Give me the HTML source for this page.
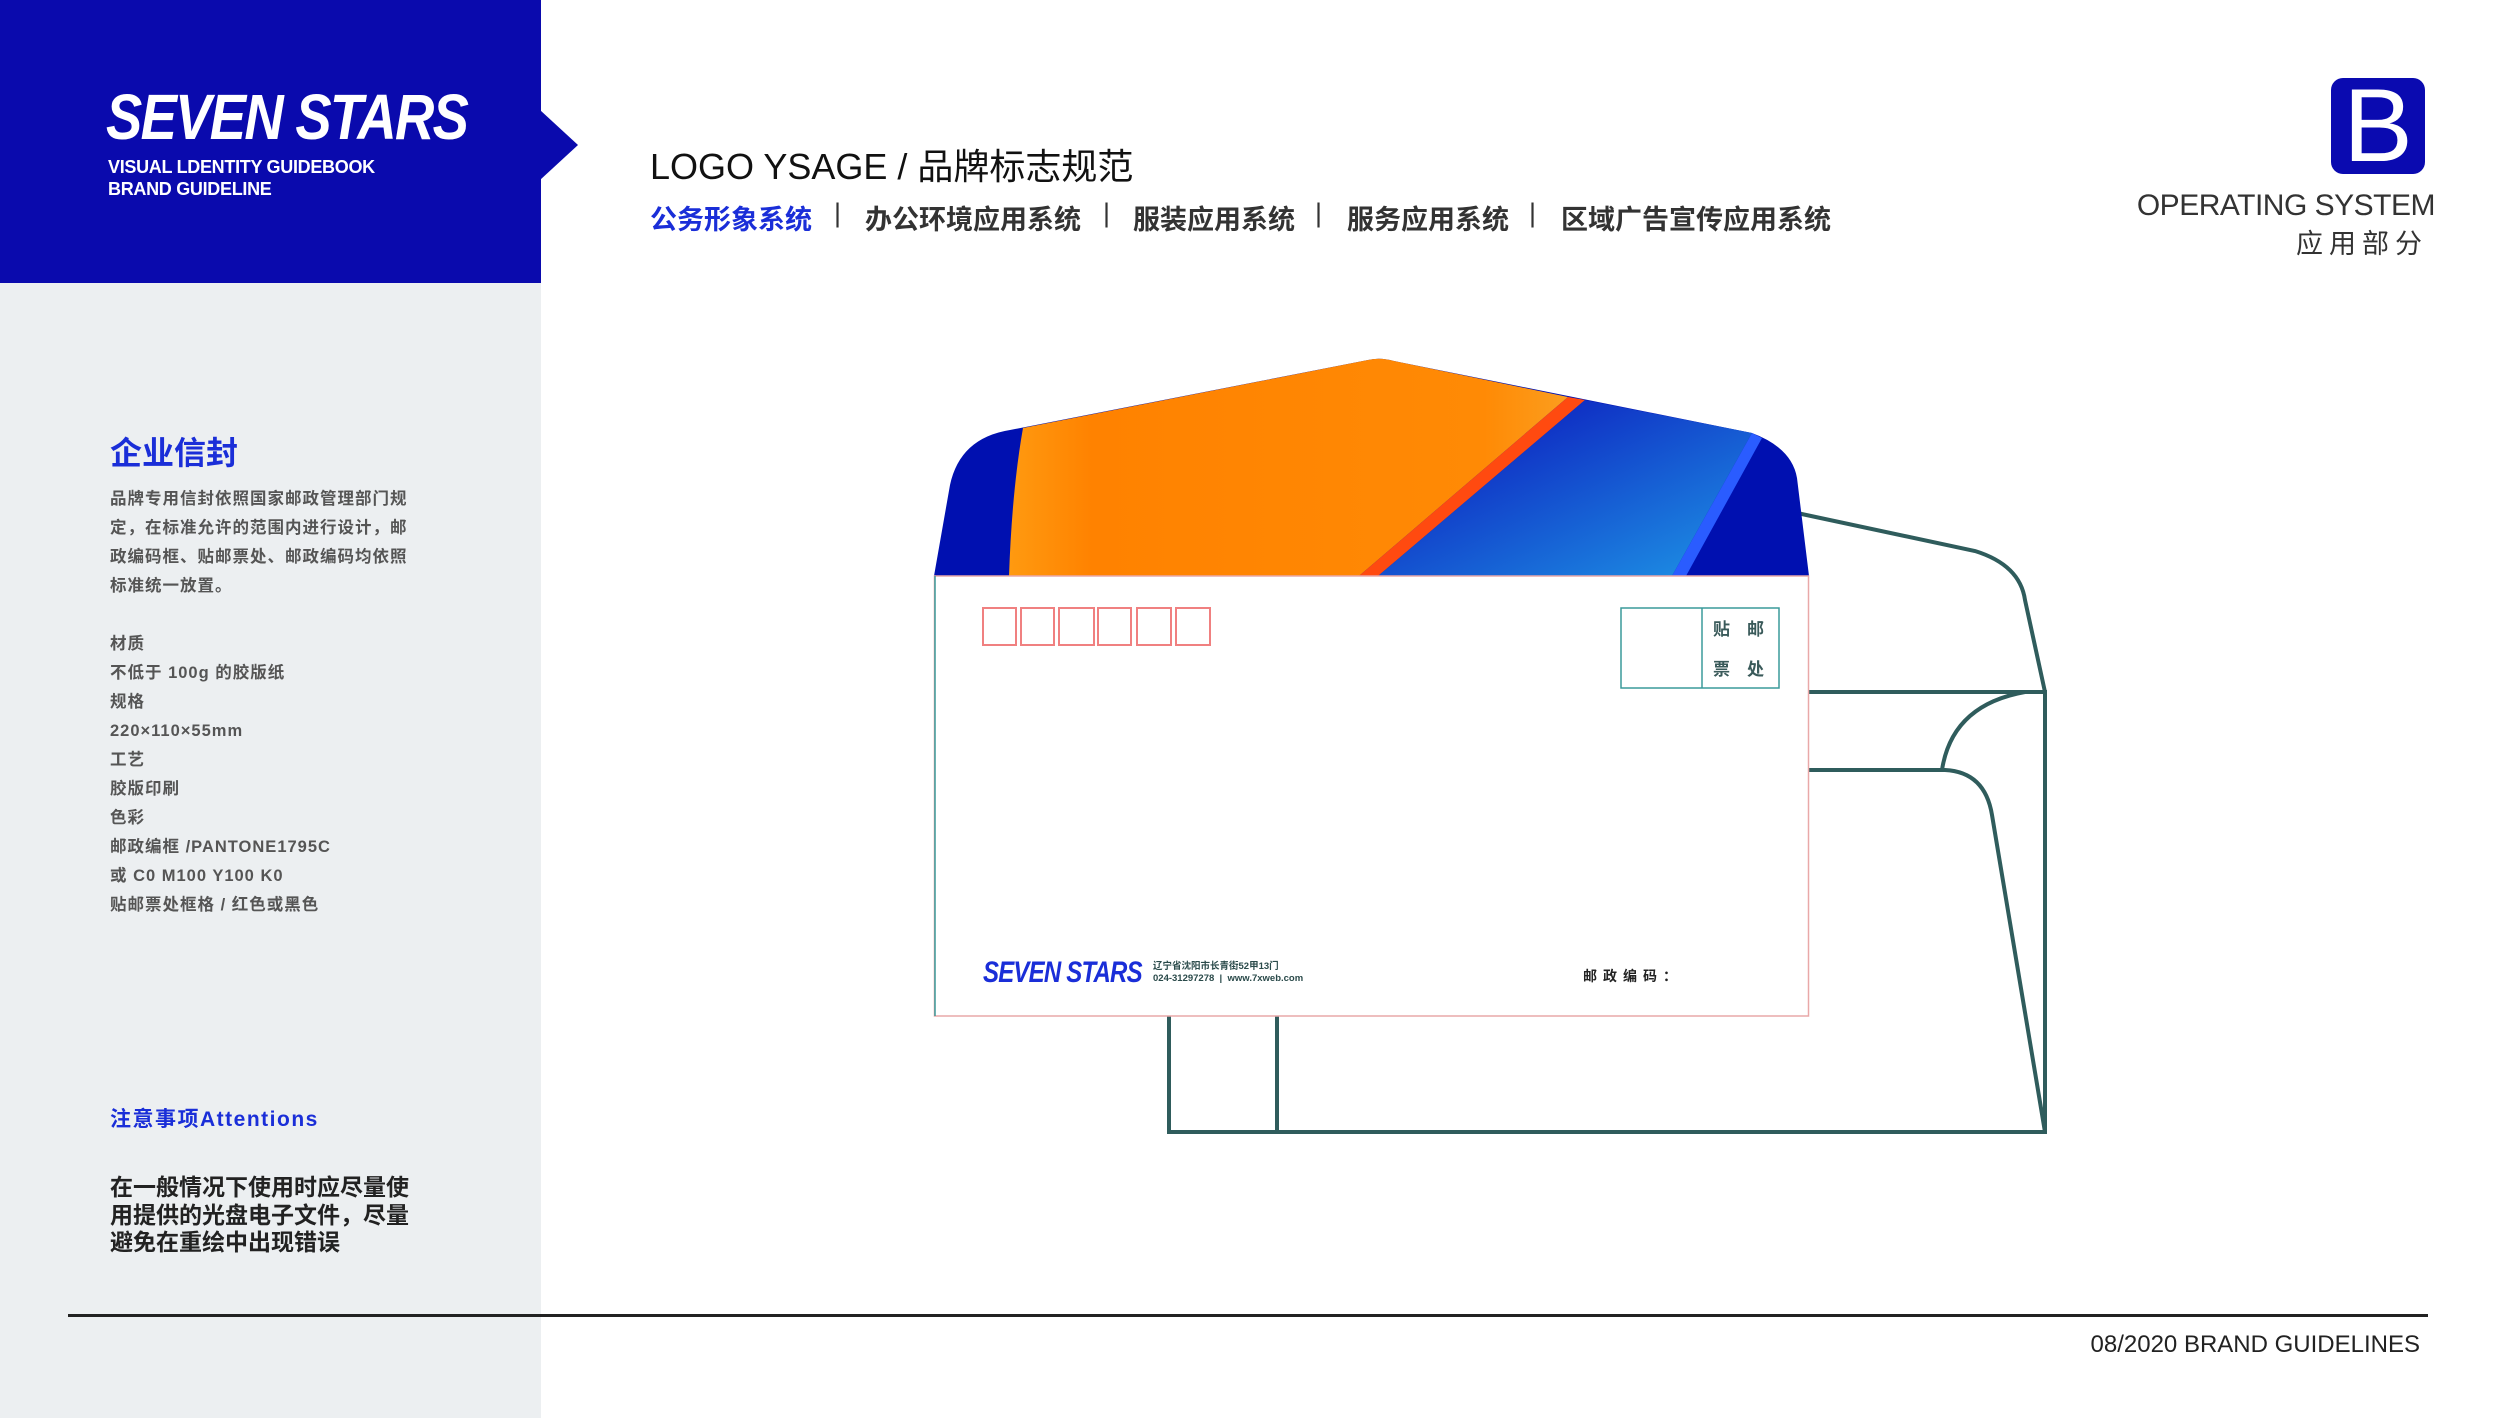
<!DOCTYPE html>
<html><head><meta charset="utf-8"><style>
*{margin:0;padding:0;box-sizing:border-box}
body{width:2520px;height:1418px;background:#fff;position:relative;overflow:hidden;font-family:"Liberation Sans","Noto Sans CJK SC",sans-serif}
.a{position:absolute;white-space:nowrap}
.side{position:absolute;left:0;top:0;width:541px;height:1418px;background:#eceff1}
.hdr{position:absolute;left:0;top:0;width:541px;height:283px;background:#0a0aad}
.p{font-size:16.5px;font-weight:bold;color:#555;letter-spacing:1px;line-height:29px}
.n{position:absolute;top:198px;font-size:27px;color:#333;font-weight:bold;white-space:nowrap}
</style></head><body>
<div class="side"></div>
<div class="hdr"></div>
<svg class="a" style="left:0;top:0" width="600" height="300"><polygon points="540,110 578,145 540,180" fill="#0a0aad"/></svg>
<div class="a" style="left:106px;top:80px;font-size:64px;font-weight:bold;font-style:italic;color:#fff;transform:scaleX(0.85);transform-origin:left top;letter-spacing:-2px">SEVEN STARS</div>
<div class="a" style="left:108px;top:156px;font-size:18px;font-weight:bold;color:#fff;line-height:22px;transform:scaleX(1.0);transform-origin:left top;letter-spacing:-0.3px">VISUAL LDENTITY GUIDEBOOK<br>BRAND GUIDELINE</div>

<div class="a" style="left:650px;top:138px;font-size:36px;color:#111">LOGO YSAGE / 品牌标志规范</div>
<div class="n" style="left:650px;color:#1a2ed8">公务形象系统</div>
<div class="n" style="left:834px;font-weight:normal">|</div>
<div class="n" style="left:865px">办公环境应用系统</div>
<div class="n" style="left:1103px;font-weight:normal">|</div>
<div class="n" style="left:1133px">服装应用系统</div>
<div class="n" style="left:1315px;font-weight:normal">|</div>
<div class="n" style="left:1347px">服务应用系统</div>
<div class="n" style="left:1529px;font-weight:normal">|</div>
<div class="n" style="left:1561px">区域广告宣传应用系统</div>

<div class="a" style="left:2331px;top:78px;width:94px;height:96px;background:#0a0ab0;border-radius:12px;color:#fff;font-size:104px;line-height:96px;text-align:center">B</div>
<div class="a" style="left:2131px;top:189px;width:304px;text-align:right;font-size:30px;color:#333;letter-spacing:-0.5px">OPERATING SYSTEM</div>
<div class="a" style="left:2296px;top:222px;width:130px;text-align:right;font-size:27px;color:#333;letter-spacing:6px">应用部分</div>

<div class="a" style="left:110px;top:428px;font-size:32px;font-weight:bold;color:#1a2ed8">企业信封</div>
<div class="a p" style="left:110px;top:485px">品牌专用信封依照国家邮政管理部门规<br>定，在标准允许的范围内进行设计，邮<br>政编码框、贴邮票处、邮政编码均依照<br>标准统一放置。</div>
<div class="a p" style="left:110px;top:630px">材质<br>不低于 100g 的胶版纸<br>规格<br>220×110×55mm<br>工艺<br>胶版印刷<br>色彩<br>邮政编框 /PANTONE1795C<br>或 C0 M100 Y100 K0<br>贴邮票处框格 / 红色或黑色</div>
<div class="a" style="left:110px;top:1103px;font-size:21px;font-weight:bold;color:#1a2ed8;letter-spacing:1.5px">注意事项Attentions</div>
<div class="a" style="left:110px;top:1174px;font-size:23px;font-weight:bold;color:#222;line-height:27.5px;letter-spacing:0px">在一般情况下使用时应尽量使<br>用提供的光盘电子文件，尽量<br>避免在重绘中出现错误</div>

<div class="a" style="left:68px;top:1314px;width:2360px;height:3px;background:#222"></div>
<div class="a" style="left:1900px;top:1331px;font-size:24px;color:#222;width:520px;text-align:right">08/2020 BRAND GUIDELINES</div>

<svg class="a" style="left:0;top:0" width="2520" height="1418">
<defs>
<linearGradient id="og" x1="0" y1="0" x2="1" y2="0"><stop offset="0" stop-color="#ff9a10"/><stop offset="0.15" stop-color="#ff8200"/><stop offset="0.85" stop-color="#ff8a05"/><stop offset="1" stop-color="#fb9e1e"/></linearGradient>
<linearGradient id="bg" x1="0" y1="0" x2="1" y2="1"><stop offset="0" stop-color="#0a0ab8"/><stop offset="1" stop-color="#1e96e6"/></linearGradient>
</defs>
<g fill="none" stroke="#2f5c5c" stroke-width="4">
<path d="M1797,513 L1975,551 Q2020,565 2025,600 L2045,692"/>
<path d="M1809,692 L2045,692 L2045,1132 L1169,1132 L1169,1016"/>
<path d="M1277,1016 L1277,1132"/>
<path d="M2025,692 Q1952,705 1942,770"/>
<path d="M1809,770 L1945,770 Q1985,772 1992,815 L2045,1132"/>
</g>
<path d="M934,576 L950,485 Q960,438 1010,430 L1368,360 Q1380,357 1394,361 L1752,433 Q1792,448 1797,478 L1809,576 Z" fill="#0010b0"/>
<path d="M1023,428 L1368,360 Q1380,357 1394,361 L1568,397 L1359,576 L1009,576 Q1012,490 1023,428 Z" fill="url(#og)"/>
<polygon points="1568,397 1585,400 1378,576 1359,576" fill="#ff4a10"/>
<polygon points="1585,400 1752,433 1672,576 1378,576" fill="url(#bg)"/>
<polygon points="1752,433 1762,438 1686,576 1672,576" fill="#2a5cff"/>
<rect x="934.5" y="576" width="874" height="440" fill="#fff" stroke="#e9a8a8" stroke-width="1.5"/>
<line x1="935" y1="576" x2="935" y2="1016" stroke="#3a9a9a" stroke-width="1.5"/>
<g fill="none" stroke="#f08080" stroke-width="2">
<rect x="983" y="608" width="33" height="37"/><rect x="1021" y="608" width="33" height="37"/><rect x="1059" y="608" width="35" height="37"/><rect x="1098" y="608" width="33" height="37"/><rect x="1137" y="608" width="34" height="37"/><rect x="1176" y="608" width="34" height="37"/>
</g>
<g fill="none" stroke="#3a9a9a" stroke-width="1.5"><rect x="1621" y="608" width="158" height="80"/><line x1="1702" y1="608" x2="1702" y2="688"/></g>
<g font-family="Liberation Sans,Noto Sans CJK SC,sans-serif" font-weight="bold" fill="#3a5a5a" font-size="17"><text x="1713" y="635">贴</text><text x="1747" y="635">邮</text><text x="1713" y="675">票</text><text x="1747" y="675">处</text></g>
</svg>
<div class="a" style="left:983px;top:956px;font-size:30px;font-weight:bold;font-style:italic;color:#1a2ed8;transform:scaleX(0.8);transform-origin:left top;letter-spacing:-1px">SEVEN STARS</div>
<div class="a" style="left:1153px;top:961px;font-size:9.5px;font-weight:bold;color:#2a4a4a;line-height:12px">辽宁省沈阳市长青街52甲13门<br>024-31297278 &nbsp;|&nbsp; www.7xweb.com</div>
<div class="a" style="left:1583px;top:966px;font-size:14px;font-weight:bold;color:#222;letter-spacing:6px">邮政编码：</div>
</body></html>
